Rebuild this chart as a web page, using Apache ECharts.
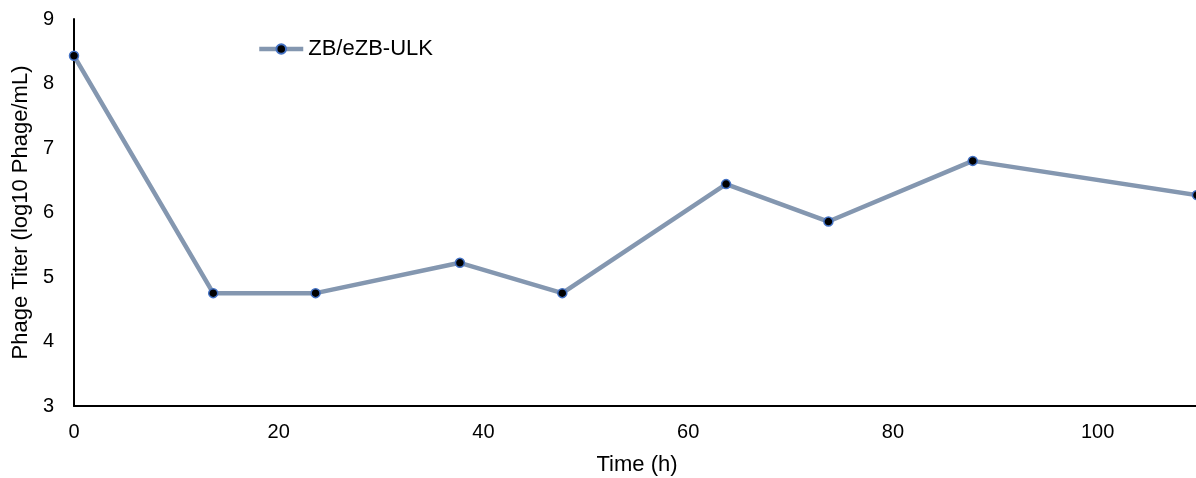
<!DOCTYPE html>
<html>
<head>
<meta charset="utf-8">
<script src="https://cdn.jsdelivr.net/npm/echarts@6/dist/echarts.min.js"></script>
<style>
  html, body { margin: 0; padding: 0; background: #fff; }
  #chart { width: 1196px; height: 478px; }
</style>
</head>
<body>
<div id="chart"></div>
<script>
// Sampling times (h) and phage titers (log10 phage/mL)
const timeHours = [0, 13.6, 23.6, 37.7, 47.7, 63.7, 73.7, 87.8, 109.7];
const titerLog10 = [8.43, 4.75, 4.75, 5.22, 4.75, 6.44, 5.86, 6.80, 6.27];
const seriesName = 'ZB/eZB-ULK';

const points = timeHours.map((t, i) => [t, titerLog10[i]]);
const font = 'Liberation Sans, Arial, sans-serif';

const chart = echarts.init(document.getElementById('chart'), null, { renderer: 'canvas' });
chart.setOption({
  animation: false,
  backgroundColor: '#ffffff',
  grid: { left: 74, top: 19, right: -4, bottom: 72, containLabel: false, outerBoundsMode: 'none' },
  legend: {
    left: 257, top: 38, padding: 0,
    itemWidth: 44, itemHeight: 12, itemGap: 2,
    textStyle: { fontFamily: font, fontSize: 22, color: '#000' },
    lineStyle: { width: 4.5 },
    data: [seriesName]
  },
  xAxis: {
    type: 'value', min: 0, max: 110, interval: 20,
    name: 'Time (h)', nameLocation: 'middle', nameGap: 48,
    nameTextStyle: { fontFamily: font, fontSize: 22, color: '#000' },
    axisLine: { show: true, lineStyle: { color: '#000', width: 2 } },
    axisTick: { show: false },
    splitLine: { show: false },
    axisLabel: { fontFamily: font, fontSize: 20, color: '#000', margin: 16, showMaxLabel: false }
  },
  yAxis: {
    type: 'value', min: 3, max: 9, interval: 1,
    name: 'Phage Titer (log10 Phage/mL)', nameLocation: 'middle', nameGap: 41,
    nameTextStyle: { fontFamily: font, fontSize: 22, color: '#000' },
    axisLine: { show: true, lineStyle: { color: '#000', width: 2 } },
    axisTick: { show: false },
    splitLine: { show: false },
    axisLabel: { fontFamily: font, fontSize: 20, color: '#000', margin: 20 }
  },
  series: [{
    name: seriesName,
    type: 'line',
    data: points,
    clip: false,
    symbol: 'circle',
    symbolSize: 9,
    lineStyle: { color: '#8497B0', width: 4.5 },
    itemStyle: { color: '#000000', borderColor: '#4472C4', borderWidth: 1.5 }
  }]
});
</script>
</body>
</html>
